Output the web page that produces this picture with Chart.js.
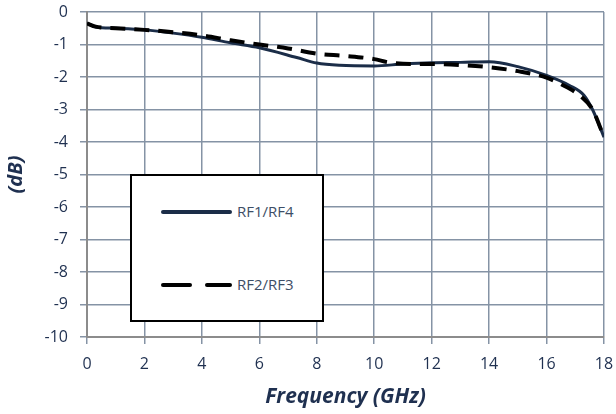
<!DOCTYPE html>
<html>
<head>
<meta charset="utf-8">
<script src="https://cdn.jsdelivr.net/npm/chart.js"></script>
<style>
  html, body { margin: 0; padding: 0; background: #fff; }
  #wrap { position: relative; width: 616px; height: 414px; overflow: hidden; }
  #legend {
    position: absolute; left: 130px; top: 174px; width: 194px; height: 148px;
    border: 2px solid #000; background: #fff; box-sizing: border-box;
    font-family: "Open Sans", sans-serif; font-size: 15px; color: #3d4e66;
  }
  .item { position: absolute; left: 0; width: 190px; height: 20px; }
  .seg { position: absolute; top: 8px; height: 4px; border-radius: 2px; }
  .item span { position: absolute; left: 105px; top: -1px; line-height: 20px; white-space: nowrap; }
</style>
</head>
<body>
<div id="wrap">
  <canvas id="chart" width="616" height="414"></canvas>
  <div id="legend">
    <div class="item" style="top:26px">
      <div class="seg" style="left:29px; width:71px; background:#1b2d48"></div>
      <span>RF1/RF4</span>
    </div>
    <div class="item" style="top:99px">
      <div class="seg" style="left:29px; width:31px; background:#000"></div>
      <div class="seg" style="left:73px; width:27px; background:#000"></div>
      <span>RF2/RF3</span>
    </div>
  </div>
</div>
<script>
// Frequency points (GHz) and insertion loss (dB)
const freqRF14 = [0, 0.3, 1, 2, 3, 4, 5, 6, 7.3, 8, 8.8, 10, 11, 12, 13, 14, 15, 16, 16.8, 17.3, 17.6, 18];
const lossRF14 = [-0.35, -0.46, -0.5, -0.55, -0.65, -0.78, -0.95, -1.1, -1.4, -1.57, -1.64, -1.66, -1.6, -1.56, -1.55, -1.53, -1.68, -1.95, -2.26, -2.56, -3.0, -3.85];

const freqRF23 = [0, 0.3, 1, 2, 3, 4, 5, 6, 7, 8, 9, 10, 10.5, 11.5, 12, 13, 14, 15, 16, 16.5, 17.2, 17.6, 18];
const lossRF23 = [-0.35, -0.45, -0.5, -0.55, -0.62, -0.72, -0.87, -1.0, -1.12, -1.28, -1.35, -1.45, -1.55, -1.6, -1.6, -1.63, -1.7, -1.82, -2.02, -2.22, -2.6, -3.0, -3.85];

const xTicks = [0, 2, 4, 6, 8, 10, 12, 14, 16, 18];
const yTicks = [0, -1, -2, -3, -4, -5, -6, -7, -8, -9, -10];

const toPoints = (xs, ys) => xs.map((x, i) => ({ x: x, y: ys[i] }));

const gridColor = '#8593a5';
const textColor = '#1f3050';
const font = 'Open Sans';

new Chart(document.getElementById('chart'), {
    type: 'line',
    data: {
        datasets: [
            {
                label: 'RF2/RF3',
                data: toPoints(freqRF23, lossRF23),
                borderColor: '#000',
                borderWidth: 4,
                borderDash: [15, 9],
                pointRadius: 0,
                cubicInterpolationMode: 'monotone',
                fill: false
            },
            {
                label: 'RF1/RF4',
                data: toPoints(freqRF14, lossRF14),
                borderColor: '#1b2d48',
                borderWidth: 3,
                pointRadius: 0,
                cubicInterpolationMode: 'monotone',
                fill: false
            }
        ]
    },
    options: {
        responsive: false,
        animation: false,
        layout: { padding: { top: 12, right: 12, left: 0, bottom: 0 } },
        plugins: {
            legend: { display: false },
            tooltip: { enabled: false }
        },
        scales: {
            x: {
                type: 'linear',
                min: 0,
                max: 18,
                afterBuildTicks: (axis) => { axis.ticks = xTicks.map(v => ({ value: v })); },
                afterFit: (axis) => {
                    axis.height = 77;
                    axis.paddingLeft = 0;
                    axis.paddingRight = 0;
                },
                grid: { color: gridColor, lineWidth: 1.5, tickLength: 7, drawTicks: true },
                border: { color: '#8c8c8c', width: 2 },
                ticks: { color: textColor, font: { family: font, size: 16 }, padding: 11 },
                title: {
                    display: true,
                    text: 'Frequency (GHz)',
                    color: textColor,
                    font: { family: font, size: 21, weight: 'bold', style: 'italic' },
                    padding: { top: 4 }
                }
            },
            y: {
                type: 'linear',
                min: -10,
                max: 0,
                afterBuildTicks: (axis) => { axis.ticks = yTicks.map(v => ({ value: v })); },
                afterFit: (axis) => {
                    axis.width = 87;
                    axis.paddingTop = 0;
                    axis.paddingBottom = 0;
                },
                grid: { color: gridColor, lineWidth: 1.5, tickLength: 7, drawTicks: true },
                border: { color: '#8c8c8c', width: 2 },
                ticks: { color: textColor, font: { family: font, size: 16 }, padding: 12 },
                title: {
                    display: true,
                    text: '(dB)',
                    color: textColor,
                    font: { family: font, size: 20, weight: 'bold', style: 'italic' },
                    padding: { bottom: 2 }
                }
            }
        }
    }
});
</script>
</body>
</html>
